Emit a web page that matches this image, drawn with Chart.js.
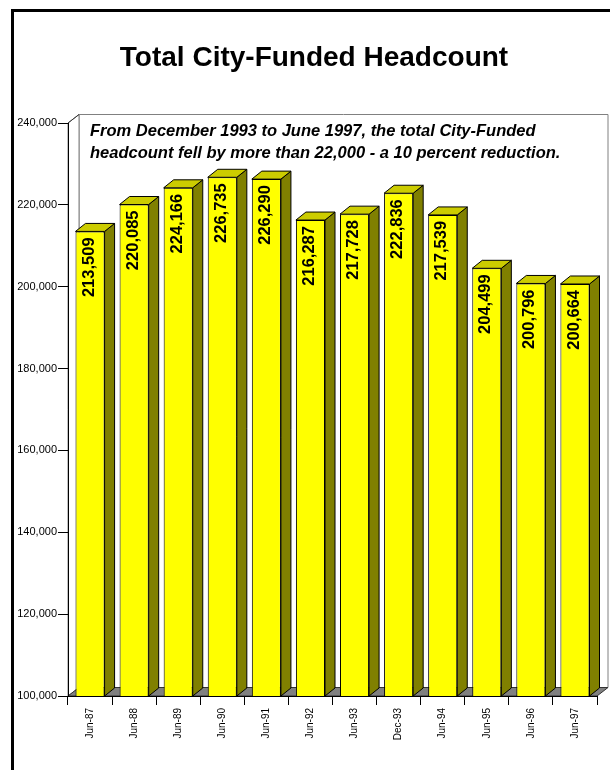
<!DOCTYPE html>
<html>
<head>
<meta charset="utf-8">
<script src="https://cdn.jsdelivr.net/npm/chart.js@4"></script>
<style>
  html, body { margin: 0; padding: 0; background: #fff; }
  #wrap { position: relative; width: 610px; height: 770px; }
</style>
</head>
<body>
<div id="wrap"><canvas id="headcount" width="610" height="770"></canvas></div>
<script>
const categories = ["Jun-87", "Jun-88", "Jun-89", "Jun-90", "Jun-91", "Jun-92",
  "Jun-93", "Dec-93", "Jun-94", "Jun-95", "Jun-96", "Jun-97"];
const headcount = [213509, 220085, 224166, 226735, 226290, 216287,
  217728, 222836, 217539, 204499, 200796, 200664];
const yMin = 100000;
const yMax = 240000;
const yStep = 20000;
const chartTitle = "Total City-Funded Headcount";
const noteLines = [
  "From December 1993 to June 1997, the total City-Funded",
  "headcount fell by more than 22,000 - a 10 percent reduction."
];

const FONT = "'Liberation Sans', Arial, sans-serif";
// depth of the fake 3D walls and of the bars
const WALL_DX = 11, WALL_DY = -8.5;
const BAR_DX = 10, BAR_DY = -8;

function poly(ctx, pts, fill, stroke) {
  ctx.beginPath();
  ctx.moveTo(pts[0][0], pts[0][1]);
  for (let i = 1; i < pts.length; i++) ctx.lineTo(pts[i][0], pts[i][1]);
  ctx.closePath();
  if (fill) { ctx.fillStyle = fill; ctx.fill(); }
  if (stroke) { ctx.strokeStyle = stroke; ctx.lineWidth = 1; ctx.stroke(); }
}

const box3d = {
  id: "box3d",
  beforeDraw(chart) {
    const ctx = chart.ctx;
    const { left, top, right, bottom } = chart.chartArea;
    ctx.save();
    // page frame
    ctx.fillStyle = "#000";
    ctx.fillRect(11, 9, 3, 770);
    ctx.fillRect(11, 9, 610, 3);

    // title
    ctx.font = "bold 28px " + FONT;
    ctx.textAlign = "center";
    ctx.textBaseline = "middle";
    ctx.fillText(chartTitle, 314, 58);

    // back wall
    poly(ctx, [[left + WALL_DX, top + WALL_DY], [right + WALL_DX, top + WALL_DY],
      [right + WALL_DX, bottom + WALL_DY], [left + WALL_DX, bottom + WALL_DY]], "#fff", "#808080");
    // left wall
    poly(ctx, [[left, top], [left + WALL_DX, top + WALL_DY],
      [left + WALL_DX, bottom + WALL_DY], [left, bottom]], "#fff", "#808080");
    ctx.beginPath();
    ctx.moveTo(left, top);
    ctx.lineTo(left + WALL_DX, top + WALL_DY);
    ctx.strokeStyle = "#333";
    ctx.stroke();
    // floor
    poly(ctx, [[left, bottom], [left + WALL_DX, bottom + WALL_DY],
      [right + WALL_DX, bottom + WALL_DY], [right, bottom]], "#808080", "#333");
    ctx.restore();
  },
  afterDatasetsDraw(chart) {
    const ctx = chart.ctx;
    const { left, top, bottom } = chart.chartArea;
    const meta = chart.getDatasetMeta(0);
    ctx.save();
    meta.data.forEach((bar, i) => {
      const { x, y, base, width } = bar.getProps(["x", "y", "base", "width"], true);
      const b = Math.min(base, bottom);
      const l = x - width / 2, r = x + width / 2;
      poly(ctx, [[r, y], [r + BAR_DX, y + BAR_DY], [r + BAR_DX, b + BAR_DY], [r, b]], "#808000", "#000");
      poly(ctx, [[l, y], [l + BAR_DX, y + BAR_DY], [r + BAR_DX, y + BAR_DY], [r, y]], "#cccc00", "#000");

      ctx.save();
      ctx.translate(x - 1, y + 6);
      ctx.rotate(-Math.PI / 2);
      ctx.font = "bold 16.5px " + FONT;
      ctx.fillStyle = "#000";
      ctx.textAlign = "right";
      ctx.textBaseline = "middle";
      ctx.fillText(headcount[i].toLocaleString("en-US"), 0, 0);
      ctx.restore();
    });

    // note in the top of the plot
    ctx.font = "italic bold 16.5px " + FONT;
    ctx.fillStyle = "#000";
    ctx.textAlign = "left";
    ctx.textBaseline = "alphabetic";
    noteLines.forEach((line, k) => ctx.fillText(line, left + 22, top + 13 + k * 22));
    ctx.restore();
  }
};

new Chart(document.getElementById("headcount"), {
  type: "bar",
  data: {
    labels: categories,
    datasets: [{
      data: headcount,
      backgroundColor: "#ffff00",
      borderColor: "#000",
      borderWidth: 1,
      borderSkipped: false,
      categoryPercentage: 1,
      barPercentage: 0.66
    }]
  },
  options: {
    responsive: false,
    animation: false,
    layout: { padding: { top: 123, right: 13, left: 0, bottom: 0 } },
    plugins: {
      legend: { display: false },
      title: { display: false },
      tooltip: { enabled: false }
    },
    scales: {
      x: {
        afterFit(scale) { scale.height = 74; },
        border: { display: true, color: "#000", width: 1 },
        grid: { drawOnChartArea: false, tickLength: 9, color: "#000", offset: true },
        ticks: {
          minRotation: 90, maxRotation: 90, padding: 3, color: "#000",
          font: { family: FONT, size: 10 }
        }
      },
      y: {
        min: yMin, max: yMax,
        afterFit(scale) { scale.width = 68; },
        border: { display: true, color: "#000", width: 1 },
        grid: { drawOnChartArea: false, tickLength: 10, color: "#000" },
        ticks: {
          stepSize: yStep, padding: 1, color: "#000",
          font: { family: FONT, size: 11 },
          callback: v => v.toLocaleString("en-US")
        }
      }
    }
  },
  plugins: [box3d]
});
</script>
</body>
</html>
